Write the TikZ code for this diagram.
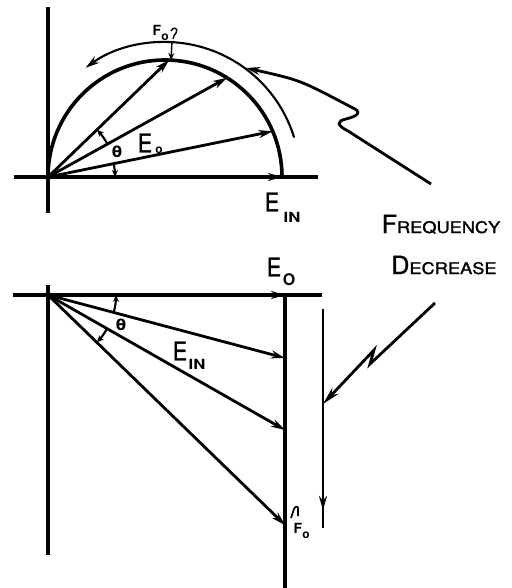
\documentclass[tikz,border=0pt]{standalone}
\usepackage{fontspec}
\setmainfont{TeX Gyre Heros}
\newfontfamily\lettering[FakeBold=1.2]{TeX Gyre Heros}
\newfontfamily\dv{DejaVu Sans}
\usetikzlibrary{arrows.meta,calc}
\newcommand{\narrowE}{\scalebox{0.82}[1]{E}}
\begin{document}
\begin{tikzpicture}[x=1pt,y=-1pt,
  axisline/.style={line width=3.8pt},
  circline/.style={line width=3.6pt},
  vecline/.style={line width=2.8pt},
  thinline/.style={line width=2.1pt},
  tipA/.style={-{Stealth[length=14pt,width=8pt]}},
  tipL/.style={-{Stealth[length=18pt,width=8.5pt]}},
  tipS/.style={-{Stealth[length=7pt,width=6pt]}},
  lblbig/.style={font=\lettering\fontsize{26}{26}\selectfont, inner sep=0pt},
  lblsub/.style={font=\bfseries\fontsize{14}{14}\selectfont, inner sep=0pt},
  lblsmall/.style={font=\bfseries\fontsize{14}{14}\selectfont, inner sep=0pt},
  lbltiny/.style={font=\bfseries\fontsize{12}{12}\selectfont, inner sep=0pt},
  lblth/.style={font=\dv\bfseries\fontsize{15}{15}\selectfont, inner sep=0pt},
  lblcap/.style={inner sep=0pt, anchor=base, font=\lettering}]
\useasboundingbox (0,0) rectangle (511,588);

% ---------- top diagram ----------
\coordinate (O1) at (48,177);
\coordinate (C1) at (165,177);
\coordinate (A1t) at (48,7);
\coordinate (A1b) at (48,213);
\coordinate (H1l) at (14,177);
\coordinate (H1r) at (318,177);
\coordinate (R1) at (282,177);
\coordinate (P1) at ($(C1)+(-88:117)$);
\coordinate (P2) at ($(C1)+(-58:117)$);
\coordinate (P3) at ($(C1)+(-23:117)$);
\coordinate (Q1) at ($(C1)+(-17:135)$);

\draw[axisline] (A1t) -- (A1b);
\draw[axisline] (H1l) -- (H1r);
\draw[circline] (O1) arc[start angle=180, end angle=360, radius=117];
\draw[vecline,tipA] (O1) -- (R1);
\draw[vecline,tipA] (O1) -- (P1);
\draw[vecline,tipA] (O1) -- (P2);
\draw[vecline,tipA] (O1) -- (P3);
\draw[thinline,tipA] (Q1) arc[start angle=-17, end angle=-126, radius=135];

% theta arrows (top)
\draw[thinline,tipS] ($(O1)+(-29:68)$) arc[start angle=-29, end angle=-44, radius=68];
\draw[thinline,tipS] ($(O1)+(-11.5:67)$) arc[start angle=-11.5, end angle=0, radius=67];
\node[lblth] (th1) at (117,152) {θ};

% labels (top)
\node[lblbig] (e1) at (145,143) {\narrowE};
\node[lbltiny] (o1) at (159,150) {o};
\node[lblbig] (e2) at (272,202) {\narrowE};
\node[lblsub] (in1) at (292,217) {\scalebox{1.2}[1]{IN}};

% F_o top
\node[lblsmall] (f1) at (157,30) {F};
\node[lbltiny] (fo1) at (165,37) {o};
\coordinate (h1a) at (171,31);
\coordinate (h1b) at (173,39);
\coordinate (F1s) at (172,41);
\coordinate (F1e) at (171,60);
\draw[line width=1.4pt] (h1a) .. controls (173,26) and (179,28) .. (176,33) .. controls (175,35) and (173,36) .. (h1b);
\draw[line width=1.4pt,tipS] (F1s) -- (F1e);

% top squiggle
\coordinate (S1a) at (431,184);
\coordinate (S1b) at (348,131);
\coordinate (S1c) at (346,119);
\coordinate (S1d) at (351,107);
\coordinate (S1e) at (246,68);
\draw[vecline,tipA] (S1a) -- (S1b) .. controls (336,125) and (337,121) .. (S1c)
  .. controls (358,116) and (363,112) .. (S1d) .. controls (300,80) .. (S1e);

% ---------- text ----------
\node[lblcap] (freq) at (441,233) {\fontsize{25}{25}\selectfont F\scalebox{1.14}[1]{\fontsize{16}{16}\selectfont REQUENCY}};
\node[lblcap] (decr) at (444,274) {\fontsize{25}{25}\selectfont D\scalebox{1.14}[1]{\fontsize{16}{16}\selectfont ECREASE}};

% ---------- bottom diagram ----------
\coordinate (O2) at (48,295);
\coordinate (A2t) at (48,285);
\coordinate (A2b) at (48,555);
\coordinate (H2l) at (13,295);
\coordinate (H2r) at (322,295);
\coordinate (R2) at (285,295);
\coordinate (V2b) at (285,588);
\coordinate (B1) at (285,358);
\coordinate (B2) at (285,430);
\coordinate (B3) at (285,525);

\draw[axisline] (A2t) -- (A2b);
\draw[axisline] (H2l) -- (H2r);
\draw[circline] (R2) -- (V2b);
\draw[vecline,tipA] (O2) -- (R2);
\draw[vecline,tipA] (O2) -- (B1);
\draw[vecline,tipA] (O2) -- (B2);
\draw[vecline,tipA] (O2) -- (B3);

% theta arrows (bottom)
\draw[thinline,tipS] ($(O2)+(14.9:68)$) arc[start angle=14.9, end angle=0, radius=68];
\draw[thinline,tipS] ($(O2)+(29.7:68)$) arc[start angle=29.7, end angle=44.1, radius=68];
\node[lblth] (th2) at (121,325) {θ};

% labels (bottom)
\node[lblbig] (e3) at (274,267) {\narrowE};
\node[font=\bfseries\fontsize{16}{16}\selectfont, inner sep=0pt] (o3) at (289,280) {O};
\node[lblbig] (e4) at (180,351) {\narrowE};
\node[lblsub] (in2) at (197,364) {\scalebox{1.2}[1]{IN}};

% F_o bottom
\node[lblsmall] (f2) at (298,528) {F};
\node[lbltiny] (fo2) at (306,535) {o};
\coordinate (h2a) at (291,518);
\coordinate (h2b) at (298,516);
\draw[line width=1.6pt] (h2a) -- (294,509) .. controls (296,505) and (299,506) .. (298,511) -- (h2b);

% frequency decrease arrow
\coordinate (D1) at (323,309);
\coordinate (D2) at (323,510);
\coordinate (D3) at (323,528);
\draw[vecline] (D1) -- (D3);
\draw[vecline,tipA] (D1) -- (D2);

% bottom squiggle
\coordinate (S2a) at (435,303);
\coordinate (S2b) at (370,364);
\coordinate (S2c) at (374,350);
\coordinate (S2d) at (323,404);
\draw[vecline,tipL] (S2a) -- (S2b) -- (S2c) -- (S2d);
\end{tikzpicture}
\end{document}
